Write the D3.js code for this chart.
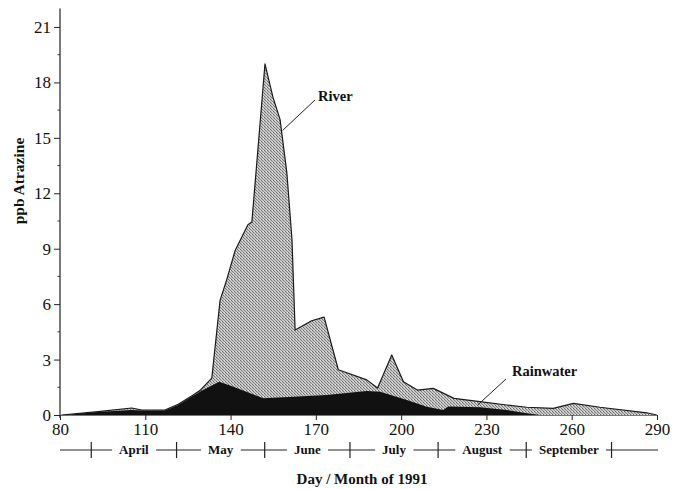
<!DOCTYPE html>
<html>
<head>
<meta charset="utf-8">
<script src="https://cdn.jsdelivr.net/npm/d3@7/dist/d3.min.js"></script>
<style>
  html, body { margin: 0; padding: 0; background: #fff; }
  svg { display: block; }
  text { font-family: "Liberation Serif", "Times New Roman", serif; fill: #111; }
</style>
</head>
<body>
<svg id="chart" width="679" height="489"></svg>
<script>
// Atrazine in river water and rainwater, day of year 1991
const riverDay = [80.5, 93.4, 105.2, 108.8, 116.9, 121.6, 126.3, 129.2, 133.4, 136.3, 138.6, 141.6, 146.1, 147.5,
                  152.1, 154.9, 157.4, 159.8, 161.6, 162.7, 168.5, 172.9, 177.9, 187.9, 191.7, 196.7, 200.8,
                  205.7, 211.3, 218.6, 227.7, 237.1, 244.2, 253.5, 260.6, 269.9, 286.4, 289.9];
const riverPpb = [0, 0.18, 0.38, 0.27, 0.27, 0.58, 1.03, 1.32, 2.0, 6.2, 7.3, 8.9, 10.3, 10.45,
                  19.0, 17.2, 16.0, 13.1, 9.5, 4.6, 5.1, 5.3, 2.45, 1.9, 1.46, 3.25, 1.8,
                  1.35, 1.44, 0.9, 0.72, 0.54, 0.42, 0.36, 0.63, 0.42, 0.12, 0];

const rainDay = [81.5, 93.4, 105.2, 108.8, 116.9, 121.6, 126.3, 129.2, 136.0, 141.0, 151.5, 162.1, 173.8,
                 187.9, 192.6, 202.0, 209.0, 214.8, 216.6, 227.7, 237.1, 244.2, 248.9];
const rainPpb = [0, 0.16, 0.27, 0.24, 0.25, 0.54, 0.99, 1.26, 1.8, 1.53, 0.9, 0.99, 1.08,
                 1.3, 1.26, 0.81, 0.45, 0.27, 0.46, 0.42, 0.27, 0.09, 0];

const xTicks = [80, 110, 140, 170, 200, 230, 260, 290];
const yTicks = [0, 3, 6, 9, 12, 15, 18, 21];
const yMinor = [1.5, 4.5, 7.5, 10.5, 13.5, 16.5, 19.5];

// first day of each month (day of year, 1991)
const monthStart = [91, 121, 152, 182, 213, 244, 274];
const monthNames = ["April", "May", "June", "July", "August", "September"];

const svg = d3.select("#chart");

const x = d3.scaleLinear().domain([80, 290]).range([60, 657]);
const y = d3.scaleLinear().domain([0, 22]).range([415, 8.5]);

// halftone screen for the river area
const defs = svg.append("defs");
const pat = defs.append("pattern")
  .attr("id", "screen").attr("patternUnits", "userSpaceOnUse")
  .attr("width", 3).attr("height", 3);
pat.append("rect").attr("width", 3).attr("height", 3).attr("fill", "#c6c6c6");
pat.append("rect").attr("x", 0).attr("y", 0).attr("width", 1).attr("height", 1).attr("fill", "#666");
pat.append("rect").attr("x", 1).attr("y", 1).attr("width", 1).attr("height", 1).attr("fill", "#7a7a7a");
pat.append("rect").attr("x", 2).attr("y", 2).attr("width", 1).attr("height", 1).attr("fill", "#8a8a8a");
pat.append("rect").attr("x", 2).attr("y", 0).attr("width", 1).attr("height", 1).attr("fill", "#e4e4e4");

const riverData = riverDay.map((d, i) => [d, riverPpb[i]]);
const rainData = rainDay.map((d, i) => [d, rainPpb[i]]);

const area = d3.area().x(d => x(d[0])).y0(y(0)).y1(d => y(d[1]));
const line = d3.line().x(d => x(d[0])).y(d => y(d[1]));

svg.append("path").datum(riverData)
  .attr("d", area).attr("fill", "url(#screen)");
svg.append("path").datum(riverData)
  .attr("d", line).attr("fill", "none").attr("stroke", "#1a1a1a")
  .attr("stroke-width", 1.2).attr("stroke-linejoin", "round");

svg.append("path").datum(rainData)
  .attr("d", area).attr("fill", "#111");

// x axis (day of year)
const xAxis = svg.append("g").attr("transform", `translate(0,${y(0)})`)
  .call(d3.axisBottom(x).tickValues(xTicks).tickSize(5).tickPadding(3).tickSizeOuter(0));
xAxis.select(".domain").attr("stroke", "#555").attr("stroke-width", 0.8);
xAxis.selectAll(".tick line").attr("stroke", "#222");
xAxis.selectAll(".tick text").attr("font-size", 17).attr("font-family", "Liberation Serif").attr("fill", "#111");

// y axis
const yAxis = svg.append("g").attr("transform", `translate(${x(80)},0)`)
  .call(d3.axisLeft(y).tickValues(yTicks).tickSize(6).tickPadding(3).tickSizeOuter(0));
yAxis.select(".domain").attr("stroke", "#333").attr("stroke-width", 1.3)
  .attr("d", `M0,${y(22)}V${y(0) + 3}`);
yAxis.selectAll(".tick line").attr("stroke", "#222");
yAxis.selectAll(".tick text").attr("font-size", 17).attr("font-family", "Liberation Serif").attr("fill", "#111");
yAxis.selectAll(".minor").data(yMinor).enter().append("line")
  .attr("class", "minor").attr("x1", -2.5).attr("x2", 0)
  .attr("y1", d => y(d)).attr("y2", d => y(d)).attr("stroke", "#333");

// month scale under the day axis
const barY = 450;
const mb = svg.append("g");
mb.append("line").attr("x1", 60).attr("x2", 658).attr("y1", barY).attr("y2", barY)
  .attr("stroke", "#222").attr("stroke-width", 1);
mb.selectAll(".mtick").data(monthStart).enter().append("line")
  .attr("x1", d => x(d)).attr("x2", d => x(d))
  .attr("y1", barY - 8).attr("y2", barY + 8)
  .attr("stroke", "#222").attr("stroke-width", 1.2);
const mLabels = mb.selectAll(".mlab").data(monthNames).enter().append("g")
  .attr("transform", (d, i) => `translate(${x((monthStart[i] + monthStart[i + 1]) / 2)},${barY})`);
mLabels.append("text").text(d => d)
  .attr("text-anchor", "middle").attr("y", 4)
  .attr("font-size", 13).attr("font-weight", "bold")
  .each(function () {
    const b = this.getBBox();
    d3.select(this.parentNode).insert("rect", "text")
      .attr("x", b.x - 7).attr("y", -4).attr("width", b.width + 14).attr("height", 8)
      .attr("fill", "#fff");
  });

// axis titles
svg.append("text").text("Day / Month of 1991")
  .attr("x", 362).attr("y", 484).attr("text-anchor", "middle")
  .attr("font-size", 15).attr("font-weight", "bold");
svg.append("text").text("ppb Atrazine")
  .attr("transform", "translate(24,181) rotate(-90)").attr("text-anchor", "middle")
  .attr("font-size", 15.5).attr("font-weight", "bold");

// series labels with leader lines
const notes = [
  { text: "River", tx: 318, ty: 101, lx: 315, ly: 100, day: 158.3, ppb: 15.4 },
  { text: "Rainwater", tx: 512, ty: 376, lx: 506, ly: 379, day: 227.0, ppb: 0.55 }
];
notes.forEach(n => {
  svg.append("line").attr("x1", n.lx).attr("y1", n.ly)
    .attr("x2", x(n.day)).attr("y2", y(n.ppb))
    .attr("stroke", "#222").attr("stroke-width", 1);
  svg.append("text").text(n.text).attr("x", n.tx).attr("y", n.ty)
    .attr("font-size", 14.5).attr("font-weight", "bold");
});
</script>
</body>
</html>
